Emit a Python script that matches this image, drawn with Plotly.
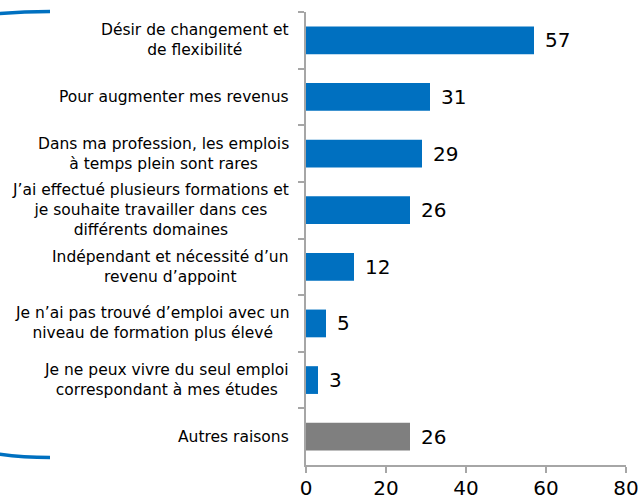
import plotly.graph_objects as go

categories = [
    "Désir de changement et<br>de flexibilité",
    "Pour augmenter mes revenus",
    "Dans ma profession, les emplois<br>à temps plein sont rares",
    "J’ai effectué plusieurs formations et<br>je souhaite travailler dans ces<br>différents domaines",
    "Indépendant et nécessité d’un<br>revenu d’appoint",
    "Je n’ai pas trouvé d’emploi avec un<br>niveau de formation plus élevé",
    "Je ne peux vivre du seul emploi<br>correspondant à mes études",
    "Autres raisons",
]
values = [57, 31, 29, 26, 12, 5, 3, 26]
bar_colors = ["#0070C0"] * 7 + ["#7F7F7F"]
x_ticks = [0, 20, 40, 60, 80]

W, H = 638, 500
ML, MR, MT, MB = 306, 12, 12, 35
pw, ph = W - ML - MR, H - MT - MB

def px(x):
    return (x - ML) / pw

def py(y):
    return (H - MB - y) / ph

fig = go.Figure(go.Bar(
    y=categories, x=values, orientation="h",
    marker=dict(color=bar_colors, line=dict(width=0)),
    hoverinfo="skip",
))

annotations = []
for c, v in zip(categories, values):
    annotations.append(dict(
        x=v, y=c, xref="x", yref="y", text=str(v), showarrow=False,
        xanchor="left", yanchor="middle", xshift=9,
        font=dict(size=20, color="#000000", family="DejaVu Sans"),
    ))
    annotations.append(dict(
        x=0, y=c, xref="paper", yref="y", text=c, showarrow=False,
        xanchor="right", yanchor="middle", align="center", xshift=-15,
        font=dict(size=15.5, color="#000000", family="DejaVu Sans"),
    ))

def path(pts):
    (x0, y0), (x1, y1), (x2, y2), (x3, y3) = pts
    return (f"M {px(x0)},{py(y0)} C {px(x1)},{py(y1)} {px(x2)},{py(y2)} {px(x3)},{py(y3)}")

shapes = [
    dict(type="path", xref="paper", yref="paper",
         path=path([(50, 11.5), (32, 11.5), (15, 12.2), (-3, 13.8)]),
         line=dict(color="#0070C0", width=3.5)),
    dict(type="path", xref="paper", yref="paper",
         path=path([(50, 457.5), (32, 457.5), (15, 456.5), (-3, 453.8)]),
         line=dict(color="#0070C0", width=3.5)),
]

fig.update_layout(
    width=W, height=H,
    margin=dict(l=ML, r=MR, t=MT, b=MB, autoexpand=False),
    plot_bgcolor="white", paper_bgcolor="white",
    bargap=0.51,
    showlegend=False,
    annotations=annotations,
    shapes=shapes,
    font=dict(family="DejaVu Sans", color="#000000"),
    xaxis=dict(
        range=[0, 80], tickvals=x_ticks, showgrid=False, zeroline=False,
        showline=True, linecolor="#A6A6A6", linewidth=1.5,
        ticks="outside", ticklen=6, tickcolor="#A6A6A6", tickwidth=1.5,
        tickfont=dict(size=20, color="#000000", family="DejaVu Sans"),
        ticklabeloverflow="allow", ticklabelstandoff=-2,
        fixedrange=True, automargin=False,
    ),
    yaxis=dict(
        autorange="reversed", showgrid=False, zeroline=False,
        showline=True, linecolor="#A6A6A6", linewidth=1.5,
        ticks="outside", ticklen=6, tickcolor="#A6A6A6", tickwidth=1.5,
        tickson="boundaries", showticklabels=False,
        fixedrange=True, automargin=False,
    ),
)

fig.write_html(
    "out.html",
    config={"displayModeBar": False},
    post_script="document.body.style.margin='0';document.body.style.overflow='hidden';",
)
